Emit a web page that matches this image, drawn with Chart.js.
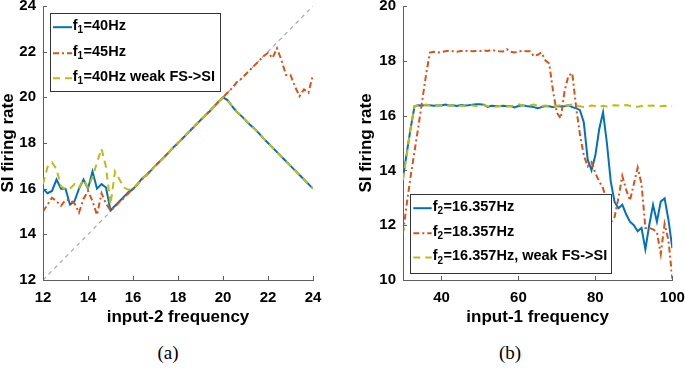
<!DOCTYPE html>
<html><head><meta charset="utf-8">
<script src="https://cdn.jsdelivr.net/npm/chart.js@4/dist/chart.umd.min.js"></script>
<style>
html,body{margin:0;padding:0;background:#fff;width:685px;height:369px;overflow:hidden;}
#ca{position:absolute;left:0;top:0;}
#cb{position:absolute;left:345px;top:0;}
.cap{position:absolute;top:341px;font-family:"Liberation Serif","DejaVu Serif",serif;font-size:19px;color:#000;transform:translateX(-50%);line-height:24px;}
</style></head><body>
<canvas id="ca" width="345" height="340"></canvas>
<canvas id="cb" width="340" height="340"></canvas>
<div class="cap" style="left:168px">(a)</div>
<div class="cap" style="left:510px">(b)</div>
<script>
// ---------- data: panel (a) ----------
const xA = [12.0,12.2,12.4,12.6,12.8,13.0,13.2,13.4,13.6,13.8,14.0,14.2,14.4,14.6,14.8,15.0,15.2,15.4,15.6,15.8,16.0,16.2,16.4,16.6,16.8,17.0,17.2,17.4,17.6,17.8,18.0,18.2,18.4,18.6,18.8,19.0,19.2,19.4,19.6,19.8,20.0,20.2,20.4,20.6,20.8,21.0,21.2,21.4,21.6,21.8,22.0,22.2,22.4,22.6,22.8,23.0,23.2,23.4,23.6,23.8,24.0];
const a_f40 = [16.0,15.8,15.9,16.4,16.0,16.0,15.3,15.45,16.0,16.4,16.0,16.75,16.0,16.2,16.05,15.05,15.25,15.45,15.65,15.85,15.98,16.2,16.45,16.6,16.8,17.02,17.2,17.4,17.6,17.82,18.0,18.2,18.4,18.6,18.8,19.0,19.2,19.38,19.6,19.8,20.0,19.88,19.62,19.38,19.2,19.0,18.8,18.62,18.42,18.2,18.0,17.8,17.6,17.4,17.2,17.0,16.8,16.6,16.4,16.2,16.0];
const a_f45 = [15.0,15.3,15.6,15.45,15.25,15.5,15.5,15.35,14.95,15.55,15.9,15.45,14.85,15.8,15.35,15.05,15.2,15.42,15.6,15.8,16.0,16.2,16.4,16.6,16.8,17.0,17.2,17.4,17.6,17.8,18.0,18.2,18.4,18.6,18.8,19.0,19.2,19.4,19.6,19.8,20.0,20.2,20.4,20.65,20.8,21.0,21.2,21.4,21.6,21.8,21.95,21.72,22.15,21.62,20.98,20.98,20.47,20.05,20.35,20.2,21.0];
const a_f40weak = [16.2,16.95,17.15,16.85,16.1,15.97,16.0,16.2,16.05,16.4,16.05,16.5,17.15,17.75,16.95,15.3,16.75,16.4,16.05,15.95,16.0,16.2,16.45,16.6,16.8,17.02,17.2,17.4,17.6,17.82,18.0,18.2,18.4,18.6,18.8,19.0,19.2,19.38,19.6,19.8,20.0,19.88,19.62,19.38,19.2,19.0,18.8,18.62,18.42,18.2,18.0,17.8,17.6,17.4,17.2,17.0,16.8,16.6,16.4,16.2,16.0];
const diagX = [12, 24];
const diagY = [12, 24];
const xTicksA = [12,14,16,18,20,22,24];
const yTicksA = [12,14,16,18,20,22,24];

// ---------- data: panel (b) ----------
const xB = [30,31,32,33,34,35,36,37,38,39,40,41,42,43,44,45,46,47,48,49,50,51,52,53,54,55,56,57,58,59,60,61,62,63,64,65,66,67,68,69,70,71,72,73,74,75,76,77,78,79,80,81,82,83,84,85,86,87,88,89,90,91,92,93,94,95,96,97,98,99,100];
const b_f16 = [13.75,14.65,15.55,16.35,16.38,16.37,16.39,16.38,16.36,16.38,16.37,16.4,16.37,16.38,16.35,16.39,16.37,16.38,16.4,16.41,16.41,16.4,16.32,16.36,16.35,16.34,16.36,16.34,16.35,16.3,16.35,16.38,16.35,16.33,16.31,16.27,16.31,16.35,16.34,16.31,16.35,16.33,16.34,16.38,16.31,16.27,16.2,15.75,14.4,14.0,14.55,15.5,16.12,15.0,13.6,12.85,12.62,12.75,12.4,12.13,12.0,11.78,11.9,11.12,12.0,12.74,12.13,12.86,12.98,12.2,11.16];
const b_f18 = [11.7,12.8,13.8,14.7,15.6,16.55,17.5,18.3,18.33,18.3,18.32,18.35,18.37,18.35,18.33,18.36,18.35,18.37,18.35,18.36,18.36,18.38,18.36,18.4,18.37,18.35,18.34,18.42,18.33,18.3,18.35,18.36,18.35,18.35,18.17,18.22,18.3,18.02,17.9,16.9,16.1,15.9,16.9,17.45,17.55,16.3,15.3,14.55,14.15,14.3,13.9,13.6,13.35,12.85,12.1,12.3,13.0,13.8,13.3,12.9,13.5,14.1,13.5,11.9,11.9,11.85,11.75,10.95,12.05,11.45,10.05];
const b_f16weak = [13.65,14.6,15.55,16.35,16.36,16.38,16.4,16.37,16.35,16.39,16.36,16.35,16.38,16.37,16.4,16.36,16.34,16.38,16.37,16.35,16.36,16.38,16.35,16.33,16.32,16.35,16.36,16.34,16.35,16.37,16.41,16.38,16.36,16.38,16.4,16.36,16.35,16.37,16.35,16.33,16.36,16.38,16.35,16.38,16.4,16.37,16.34,16.31,16.33,16.37,16.35,16.32,16.36,16.33,16.36,16.38,16.37,16.35,16.39,16.36,16.33,16.32,16.35,16.38,16.36,16.37,16.35,16.34,16.36,16.35,16.34];
const xTicksB = [40,60,80,100];
const yTicksB = [10,12,14,16,18,20];

// legend texts: [prefix, subscript, rest]
const legendA = [['f','1','=40Hz'],['f','1','=45Hz'],['f','1','=40Hz weak FS->SI']];
const legendB = [['f','2','=16.357Hz'],['f','2','=18.357Hz'],['f','2','=16.357Hz, weak FS->SI']];

// ---------- styles ----------
const BLUE = '#0072BD', RED = '#D95319', YEL = '#BDBD12', AX = '#5e5e5e';
const FF = '"Liberation Sans", Arial, Helvetica, sans-serif';
const pts = (xs, ys) => xs.map((x, i) => ({x: x, y: ys[i]}));

function lineDS(data, color, dash) {
  return {data: data, borderColor: color, borderWidth: 2, borderDash: dash, pointRadius: 0, tension: 0, fill: false};
}

function inwardTicks() {
  return {
    id: 'inward',
    afterDraw(chart) {
      const ctx = chart.ctx, a = chart.chartArea;
      ctx.save();
      ctx.strokeStyle = AX; ctx.lineWidth = 1;
      chart.scales.x.ticks.forEach(t => {
        const px = Math.round(chart.scales.x.getPixelForValue(t.value)) + 0.5;
        ctx.beginPath(); ctx.moveTo(px, a.bottom); ctx.lineTo(px, a.bottom - 4); ctx.stroke();
      });
      chart.scales.y.ticks.forEach(t => {
        const py = Math.round(chart.scales.y.getPixelForValue(t.value)) + 0.5;
        ctx.beginPath(); ctx.moveTo(a.left, py); ctx.lineTo(a.left + 4, py); ctx.stroke();
      });
      ctx.restore();
    }
  };
}

function legendPlugin(texts, styles, box) {
  return {
    id: 'customLegend',
    afterDraw(chart) {
      const ctx = chart.ctx;
      ctx.save();
      ctx.fillStyle = '#fff';
      ctx.fillRect(box.x, box.y, box.w, box.h);
      ctx.strokeStyle = '#333'; ctx.lineWidth = 1;
      ctx.strokeRect(box.x, box.y, box.w, box.h);
      texts.forEach((t, i) => {
        const y = box.rows[i];
        const st = styles[i];
        ctx.strokeStyle = st.color; ctx.lineWidth = 2; ctx.setLineDash(st.dash);
        ctx.beginPath(); ctx.moveTo(box.sx1, y + 1.5); ctx.lineTo(box.sx2, y + 1.5); ctx.stroke();
        ctx.setLineDash([]);
        ctx.fillStyle = '#000';
        ctx.textBaseline = 'middle'; ctx.textAlign = 'left';
        let x = box.tx;
        ctx.font = 'bold 14.5px ' + FF;
        ctx.fillText(t[0], x, y); x += ctx.measureText(t[0]).width;
        ctx.font = 'bold 10px ' + FF;
        ctx.fillText(t[1], x, y + 5); x += ctx.measureText(t[1]).width + 0.5;
        ctx.font = 'bold 14.5px ' + FF;
        ctx.fillText(t[2], x, y);
      });
      ctx.restore();
    }
  };
}

function makeChart(canvas, cfg) {
  return new Chart(canvas, {
    type: 'line',
    data: {datasets: cfg.datasets},
    options: {
      responsive: false, animation: false, events: [],
      layout: {padding: {left: 0, right: cfg.padRight, top: 6, bottom: 0}},
      plugins: {legend: {display: false}, tooltip: {enabled: false}},
      scales: {
        x: {
          type: 'linear', min: cfg.xmin, max: cfg.xmax,
          afterBuildTicks: s => { s.ticks = cfg.xticks.map(v => ({value: v})); },
          afterFit: s => { s.height = 60; s.paddingLeft = 0; s.paddingRight = 0; },
          grid: {display: true, drawOnChartArea: false, drawTicks: false},
          border: {display: true, color: AX, width: 1},
          ticks: {font: {family: FF, size: 15, weight: 'bold'}, color: '#000', padding: 9, maxRotation: 0, autoSkip: false},
          title: {display: true, text: cfg.xtitle, color: '#000', font: {family: FF, size: 17, weight: 'bold'}, padding: {top: 0, bottom: 12}}
        },
        y: {
          type: 'linear', min: cfg.ymin, max: cfg.ymax,
          afterBuildTicks: s => { s.ticks = cfg.yticks.map(v => ({value: v})); },
          afterFit: s => { s.width = cfg.yWidth; s.paddingTop = 0; s.paddingBottom = 0; },
          grid: {display: true, drawOnChartArea: false, drawTicks: false},
          border: {display: true, color: AX, width: 1},
          ticks: {font: {family: FF, size: 15, weight: 'bold'}, color: '#000', padding: 7},
          title: {display: true, text: 'SI firing rate', color: '#000', font: {family: FF, size: 17, weight: 'bold', lineHeight: 1}, padding: {top: cfg.yTitlePad, bottom: 0}}
        }
      }
    },
    plugins: [inwardTicks(), legendPlugin(cfg.legendTexts, cfg.legendStyles, cfg.legendBox)]
  });
}

const dashRed = [6, 3, 2, 3], dashYel = [7, 5];

makeChart(document.getElementById('ca'), {
  datasets: [
    lineDS(pts(xA, a_f40weak), YEL, dashYel),
    lineDS(pts(xA, a_f45), RED, dashRed),
    lineDS(pts(xA, a_f40), BLUE, []),
    {data: pts(diagX, diagY), borderColor: '#a8a8a8', borderWidth: 1.2, borderDash: [4, 4], pointRadius: 0, tension: 0, fill: false}
  ],
  xmin: 12, xmax: 24, ymin: 12, ymax: 24,
  xticks: xTicksA, yticks: yTicksA,
  xtitle: 'input-2 frequency', padRight: 32, yWidth: 43, yTitlePad: 0,
  legendTexts: legendA,
  legendStyles: [{color: BLUE, dash: []}, {color: RED, dash: dashRed}, {color: YEL, dash: dashYel}],
  legendBox: {x: 50.5, y: 13.5, w: 170, h: 78, rows: [25.7, 51.7, 76.7], sx1: 53, sx2: 72, tx: 72.7}
});

makeChart(document.getElementById('cb'), {
  datasets: [
    lineDS(pts(xB, b_f16weak), YEL, dashYel),
    lineDS(pts(xB, b_f18), RED, dashRed),
    lineDS(pts(xB, b_f16), BLUE, [])
  ],
  xmin: 30, xmax: 100, ymin: 10, ymax: 20,
  xticks: xTicksB, yticks: yTicksB,
  xtitle: 'input-1 frequency', padRight: 12.7, yWidth: 58, yTitlePad: 12.7,
  legendTexts: legendB,
  legendStyles: [{color: BLUE, dash: []}, {color: RED, dash: dashRed}, {color: YEL, dash: dashYel}],
  legendBox: {x: 65.5, y: 194.5, w: 201, h: 79, rows: [206.7, 231.7, 256], sx1: 68.3, sx2: 86.7, tx: 87.7}
});
</script>
</body></html>
